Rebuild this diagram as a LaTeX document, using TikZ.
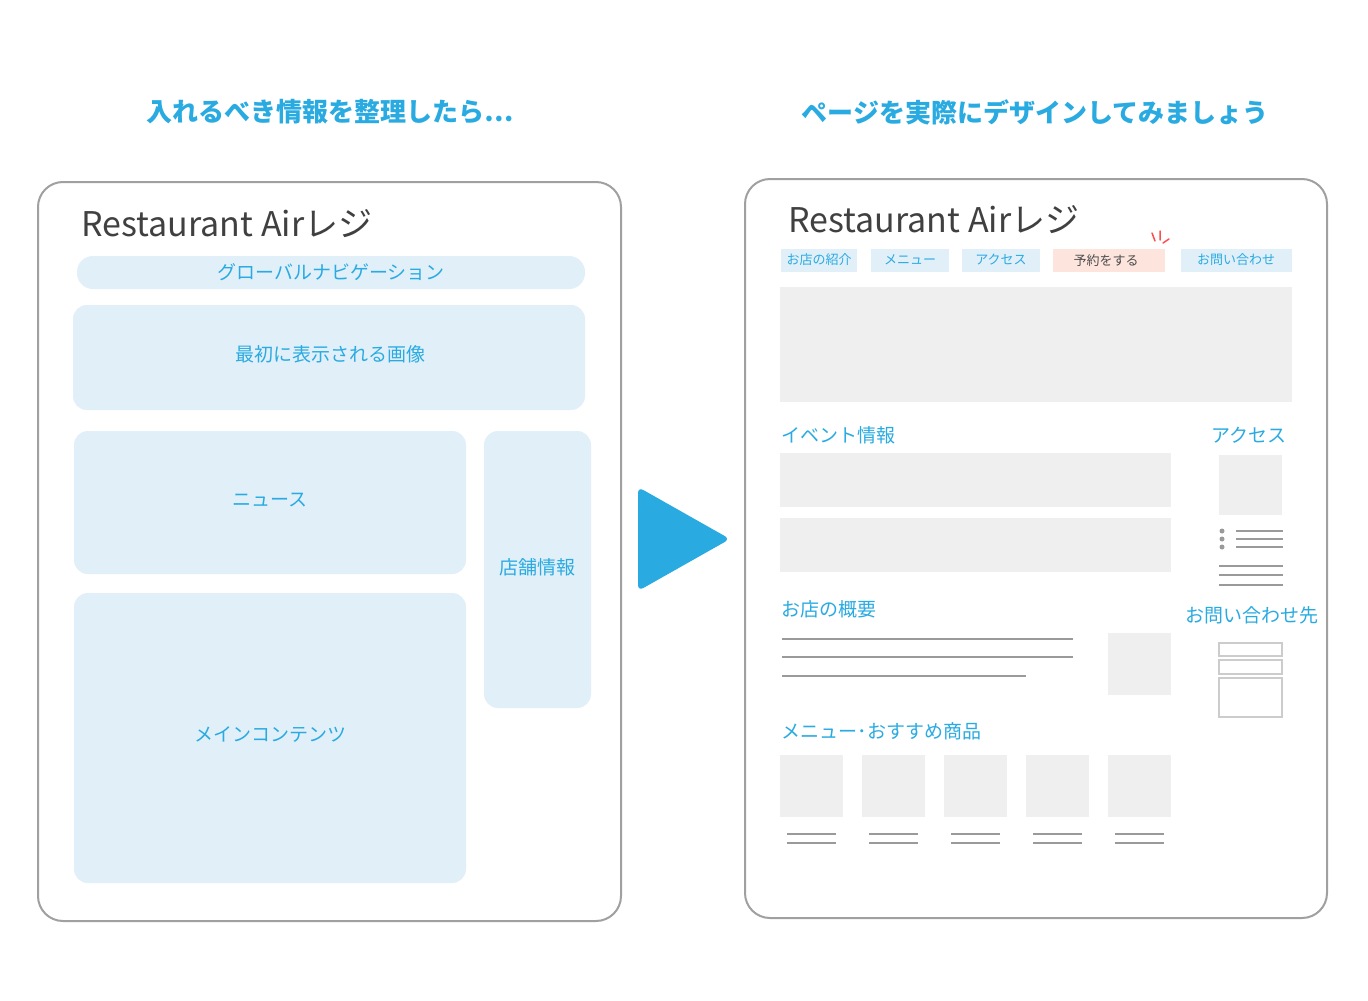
\documentclass[tikz,border=0pt]{standalone}
\usepackage{fontspec}
\setmainfont{Noto Sans CJK JP}
\usetikzlibrary{calc}
\definecolor{cy}{HTML}{29ABE2}
\definecolor{lb}{HTML}{E1EFF8}
\definecolor{gb}{HTML}{EFEFEF}
\definecolor{fr}{HTML}{A0A0A0}
\definecolor{pk}{HTML}{FDE5DE}
\definecolor{ln}{HTML}{9A9A9A}
\tikzset{
 frame/.style={draw=fr,line width=2pt,rounded corners=25pt,fill=white},
 lbox/.style={fill=lb,rounded corners=14pt},
 ltxt/.style={text=cy,font=\fontsize{19}{22}\selectfont},
 gbox/.style={fill=gb},
 navb/.style={fill=lb},
 navt/.style={text=cy,font=\fontsize{13}{15}\selectfont},
 sec/.style={text=cy,font=\fontsize{19}{22}\selectfont},
 gl/.style={draw=ln,line width=2pt},
 brand/.style={text=black!75,font=\fontsize{34}{38}\selectfont,anchor=west},
 ttl/.style={text=cy,font=\bfseries\fontsize{26}{30}\selectfont},
}
\begin{document}
\begin{tikzpicture}[x=1pt,y=-1pt]
\useasboundingbox (0,0) rectangle (1368,1001);
\node[ttl] (t1) at (330,112) {入れるべき情報を整理したら…};
\node[ttl] (t2) at (1035,112) {ページを実際にデザインしてみましょう};
% left
\draw[frame] (38,182) rectangle (621,921);
\node[brand] (b1) at (78,224) {Restaurant Airレジ};
\fill[lbox,rounded corners=16pt] (77,256) rectangle (585,289);
\node[ltxt] (gn) at (331,272) {グローバルナビゲーション};
\fill[lbox] (73,305) rectangle (585,410);
\node[ltxt] (im) at (330,354) {最初に表示される画像};
\fill[lbox] (74,431) rectangle (466,574);
\node[ltxt] (nw) at (270,500) {ニュース};
\fill[lbox] (484,431) rectangle (591,708);
\node[ltxt] (sh) at (537,567) {店舗情報};
\fill[lbox] (74,593) rectangle (466,883);
\node[ltxt] (mc) at (270,735) {メインコンテンツ};
% arrow
\fill[cy,rounded corners=6pt] (638,487) -- (730,539) -- (638,591) -- cycle;
% right
\draw[frame] (745,179) rectangle (1327,918);
\node[brand] (b2) at (785,220) {Restaurant Airレジ};
\fill[navb] (781,249) rectangle (857,272); \node[navt] (n1) at (819,260) {お店の紹介};
\fill[navb] (871,249) rectangle (949,272); \node[navt] (n2) at (910,260) {メニュー};
\fill[navb] (962,249) rectangle (1040,272); \node[navt] (n3) at (1001,260) {アクセス};
\fill[pk] (1053,249) rectangle (1165,272); \node[navt,text=black!70] (n4) at (1106,261) {予約をする};
\fill[navb] (1181,249) rectangle (1292,272); \node[navt] (n5) at (1236,260) {お問い合わせ};
\draw[red!70,line width=1.5pt,line cap=round] (1152,233)--(1155,241) (1160,231)--(1160,240) (1163,243)--(1169,239);
\fill[gb] (780,287) rectangle (1292,402);
\node[sec,anchor=west] (ev) at (778,435) {イベント情報};
\fill[gb] (780,453) rectangle (1171,507);
\fill[gb] (780,518) rectangle (1171,572);
\node[sec,anchor=east] (ac) at (1290,435) {アクセス};
\fill[gb] (1219,455) rectangle (1282,515);
\foreach \y in {531,539,547}{\fill[ln] (1222,\y) circle (2.5pt); \draw[gl,line width=1.6pt] (1236,\y)--(1283,\y);}
\foreach \y in {566,575,585}{\draw[gl,line width=1.6pt] (1219,\y)--(1283,\y);}
\node[sec,anchor=west] (gy) at (778,609) {お店の概要};
\draw[gl] (782,639)--(1073,639);
\draw[gl] (782,657)--(1073,657);
\draw[gl] (782,676)--(1026,676);
\fill[gb] (1108,633) rectangle (1171,695);
\node[sec,anchor=east] (ct) at (1322,615) {お問い合わせ先};
\draw[draw=black!20,line width=2pt] (1219,643) rectangle (1282,656);
\draw[draw=black!20,line width=2pt] (1219,660) rectangle (1282,674);
\draw[draw=black!20,line width=2pt] (1219,678) rectangle (1282,717);
\node[sec,anchor=west] (mn) at (778,731) {メニュー･おすすめ商品};
\foreach \x in {780,862,944,1026,1108}{
 \fill[gb] (\x,755) rectangle ++(63,62);
 \draw[gl,line width=1.6pt] (\x+7,834)--(\x+56,834);
 \draw[gl,line width=1.6pt] (\x+7,843)--(\x+56,843);
}
\end{tikzpicture}
\end{document}
